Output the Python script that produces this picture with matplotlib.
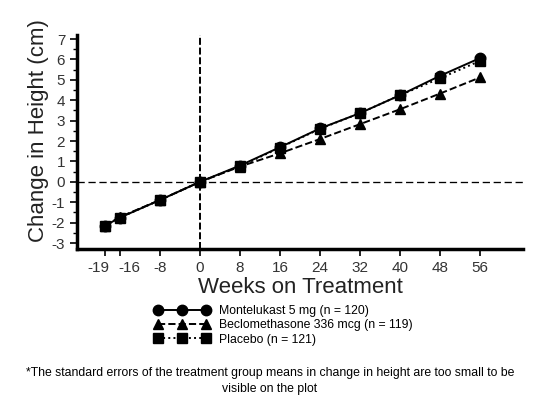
import numpy as np
import matplotlib.pyplot as plt
import matplotlib.transforms as mtransforms
from matplotlib.ticker import MultipleLocator

plt.rcParams['font.family'] = ['Liberation Sans', 'DejaVu Sans']
plt.rcParams['axes.unicode_minus'] = False

weeks = [-19, -16, -8, 0, 8, 16, 24, 32, 40, 48, 56]
montelukast = [-2.15, -1.75, -0.89, 0, 0.8, 1.7, 2.62, 3.37, 4.25, 5.2, 6.07]
beclomethasone = [-2.15, -1.72, -0.89, 0, 0.75, 1.4, 2.1, 2.83, 3.56, 4.33, 5.12]
placebo = [-2.15, -1.75, -0.89, 0, 0.76, 1.68, 2.6, 3.37, 4.25, 5.08, 5.93]

labels = ['Montelukast 5 mg (n = 120)',
          'Beclomethasone 336 mcg (n = 119)',
          'Placebo (n = 121)']

fig = plt.figure(figsize=(5.4, 3.98), dpi=100)
ax = fig.add_axes([0.1426, 0.374, 0.826, 0.538])

ax.plot(weeks, montelukast, 'k-', marker='o', ms=7.5, lw=1.4, label=labels[0])
ax.plot(weeks, beclomethasone, 'k--', marker='^', ms=7.5, lw=1.4, label=labels[1])
ax.plot(weeks, placebo, 'k:', marker='s', ms=7, lw=1.4, label=labels[2])

ax.axhline(0, color='k', ls=(0, (5.5, 2.8)), lw=0.95)
ax.axvline(0, color='k', ls=(0, (3.6, 1.4)), lw=1.4)

ax.set_xlim(-24.6, 64.6)
ax.set_ylim(-3.3, 7.2)
ax.set_xticks(weeks)
ax.set_yticks(range(-3, 8))
ax.yaxis.set_minor_locator(MultipleLocator(0.5))
ax.tick_params(axis='both', labelsize=11, labelcolor='#333333')
ax.tick_params(axis='both', which='major', length=5, width=1.2, color='k')
ax.tick_params(axis='y', which='minor', length=3, width=1.0, color='k')

# nudge the two crowded labels apart
xlabels = ax.get_xticklabels()
for lab, dx in [(xlabels[0], -7), (xlabels[1], 9)]:
    lab.set_transform(lab.get_transform() +
                      mtransforms.ScaledTranslation(dx / 100, 0, fig.dpi_scale_trans))

for s in ['top', 'right']:
    ax.spines[s].set_visible(False)
for s in ['left', 'bottom']:
    ax.spines[s].set_linewidth(2.5)

ax.set_xlabel('Weeks on Treatment', fontsize=16, color='#222222')
ax.set_ylabel('Change in Height (cm)', fontsize=16, color='#222222')
ax.xaxis.set_label_coords(0.5, -0.128)
ax.yaxis.set_label_coords(-0.062, 0.556)

fig.legend(loc='upper left', bbox_to_anchor=(0.285, 0.234), frameon=False,
           fontsize=8.8, numpoints=3, handlelength=4.6, handletextpad=0.7,
           labelspacing=0.2, borderaxespad=0, borderpad=0)

fig.text(0.5, 0.042, '*The standard errors of the treatment group means in change in height are too small to be\nvisible on the plot',
         ha='center', va='center', fontsize=8.8, linespacing=1.4)

fig.savefig('out.png', dpi=100)
